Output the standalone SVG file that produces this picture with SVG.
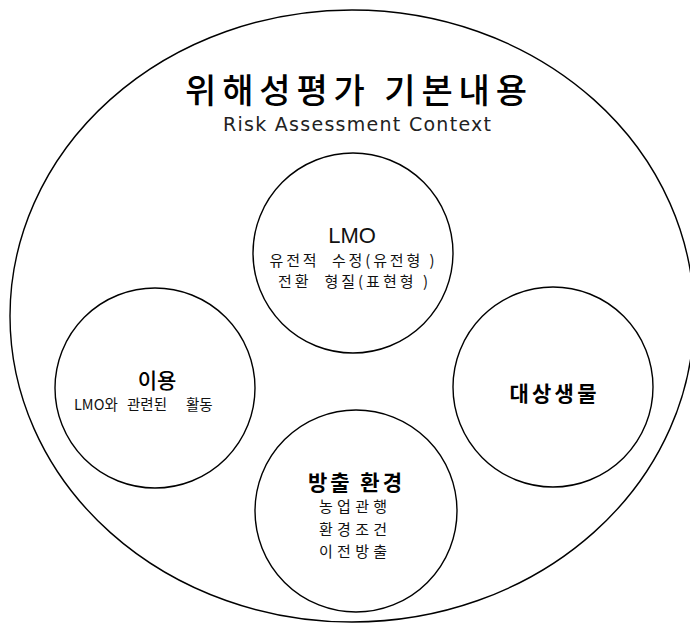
<svg xmlns="http://www.w3.org/2000/svg" width="690" height="633" viewBox="0 0 690 633">
<style>
.ring{fill:none;stroke:#000;stroke-width:1.4}
.kr{font-family:"Noto Sans CJK KR","Liberation Sans",sans-serif;fill:#000;text-anchor:middle;white-space:pre}
.en{font-family:"Liberation Sans","Noto Sans",sans-serif;fill:#111;text-anchor:middle}
.head{font-weight:500}
.bold{font-weight:700}
.sub{font-weight:400;fill:#111}
</style>
<rect width="690" height="633" fill="#fff"/>
<g id="context">
<ellipse class="ring" cx="352" cy="316" rx="342" ry="306"/>
<text class="kr" x="356" y="103" font-size="34" font-weight="500" textLength="342" lengthAdjust="spacing">위해성평가 기본내용</text>
<text x="357" y="131" font-family="'DejaVu Sans','Liberation Sans',sans-serif" font-size="19" font-weight="400" fill="#222" text-anchor="middle" textLength="268" lengthAdjust="spacing">Risk Assessment Context</text>
</g>
<g id="lmo">
<circle class="ring" cx="353" cy="253" r="100"/>
<text class="en" x="352" y="243" font-size="22">LMO</text>
<text class="kr sub" x="352" y="266" font-size="15" textLength="165" lengthAdjust="spacing" xml:space="preserve">유전적  수정(유전형 )</text>
<text class="kr sub" x="353" y="287" font-size="15" textLength="150" lengthAdjust="spacing" xml:space="preserve">전환  형질(표현형 )</text>
</g>
<g id="use">
<circle class="ring" cx="155" cy="388" r="100"/>
<text class="kr head" x="157" y="388" font-size="21">이용</text>
<text class="kr sub" y="410" font-size="14.5" style="text-anchor:start"><tspan x="74">LMO와</tspan><tspan x="127">관련된</tspan><tspan x="186">활동</tspan></text>
</g>
<g id="target">
<circle class="ring" cx="553" cy="387" r="100"/>
<text class="kr bold" x="553" y="401" font-size="21" textLength="87" lengthAdjust="spacing">대상생물</text>
</g>
<g id="release">
<circle class="ring" cx="356" cy="511" r="101"/>
<text class="kr bold" x="355" y="490" font-size="21" textLength="94" lengthAdjust="spacing">방출 환경</text>
<text class="kr sub" x="353" y="512" font-size="15" textLength="68" lengthAdjust="spacing">농업관행</text>
<text class="kr sub" x="353" y="535" font-size="15" textLength="68" lengthAdjust="spacing">환경조건</text>
<text class="kr sub" x="353" y="557" font-size="15" textLength="68" lengthAdjust="spacing">이전방출</text>
</g>
</svg>
